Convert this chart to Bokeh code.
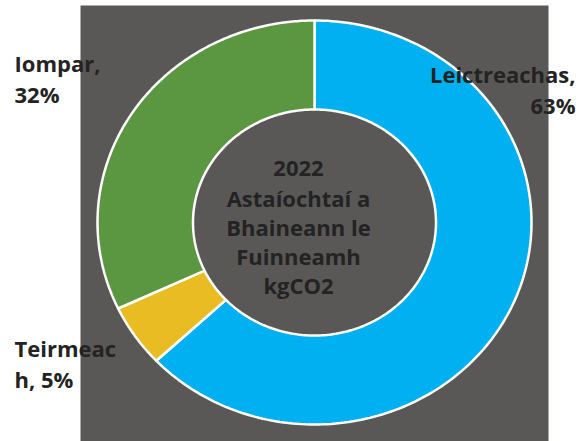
import numpy as np
from bokeh.plotting import figure
from bokeh.models import Range1d, ColumnDataSource
from bokeh.core.properties import value
from bokeh.embed import file_html
from bokeh.resources import INLINE

# ---- data ----
categories = ["Leictreachas", "Teirmeach", "Iompar"]
shares = [63, 5, 32]
colors = ["#00B0F0", "#E8BC22", "#5B9641"]
label_lines = [["Leictreachas,", "63%"], ["Teirmeac", "h, 5%"], ["Iompar,", "32%"]]
center_lines = ["2022", "Astaíochtaí a", "Bhaineann le", "Fuinneamh", "kgCO2"]

# ---- layout (pixel coordinates, y downwards) ----
W, H = 584, 441
cx, cy = 314, 222
rx_o, ry_o = 217, 202
rx_i, ry_i = 121.5, 113

p = figure(width=W, height=H, output_backend="svg", toolbar_location=None,
           x_range=Range1d(0, W), y_range=Range1d(H, 0), min_border=0)
p.axis.visible = False
p.grid.visible = False
p.outline_line_color = None
p.background_fill_color = "white"
p.border_fill_color = "white"

# dark panel behind the chart
p.quad(left=[80], right=[548], top=[5], bottom=[H + 5],
       fill_color="#595857", line_color=None)

# donut wedges, clockwise from 12 o'clock
total = float(sum(shares))
cum = np.concatenate([[0], np.cumsum(shares)]) / total * 2 * np.pi
xs, ys = [], []
for i in range(len(shares)):
    t = np.linspace(cum[i], cum[i + 1], 200)
    xo = cx + rx_o * np.sin(t)
    yo = cy - ry_o * np.cos(t)
    xi = cx + rx_i * np.sin(t[::-1])
    yi = cy - ry_i * np.cos(t[::-1])
    xs.append(list(np.concatenate([xo, xi])))
    ys.append(list(np.concatenate([yo, yi])))
src = ColumnDataSource(dict(xs=xs, ys=ys, color=colors, cat=categories))
p.patches("xs", "ys", source=src, fill_color="color", line_color="white", line_width=2.5)

font = value("Open Sans")
tc = "#232323"
fs = "22px"

# data labels
lab_x = [575, 14, 14]
lab_y = [73, 347, 62]
lab_align = ["right", "left", "left"]
lh = 31
for i, lines in enumerate(label_lines):
    for j, line in enumerate(lines):
        p.text(x=[lab_x[i]], y=[lab_y[i] + j * lh], text=[line],
               text_font=font, text_font_style="bold", text_font_size=fs,
               text_color=tc, text_align=lab_align[i], text_baseline="alphabetic")

# centre title
for j, line in enumerate(center_lines):
    p.text(x=[298], y=[168 + j * 29.2], text=[line],
           text_font=font, text_font_style="bold", text_font_size=fs,
           text_color=tc, text_align="center", text_baseline="alphabetic")

open("out.html", "w").write(file_html(p, INLINE))
